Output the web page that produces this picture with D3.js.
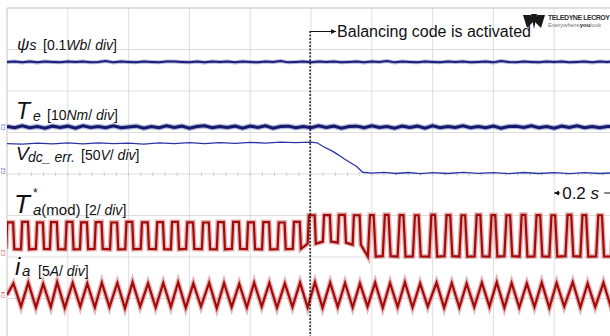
<!DOCTYPE html>
<html>
<head>
<meta charset="utf-8">
<script src="https://cdn.jsdelivr.net/npm/d3@7"></script>
<style>
  html, body { margin: 0; padding: 0; background: #fff; }
  svg { display: block; font-family: "Liberation Sans", Arial, sans-serif; }
</style>
</head>
<body>
<script>
"use strict";

// time axis: 0.2 s/div, 10 div; activation of balancing code
const activationT = 0.997;
const gridT = d3.range(0, 2.0001, 0.2);
const gridDiv = d3.range(-4, 4.0001, 1);

// channel settings (units per div, zero level in div)
const chPsi  = { perDiv: 0.1, zero: 0.0 };
const chTe   = { perDiv: 10,  zero: 1.133 };
const chVdc  = { perDiv: 50,  zero: 0.072 };
const chMod  = { perDiv: 2,   zero: -1.904 };
const chIa   = { perDiv: 5,   zero: -2.916 };

// sampled every 0.025 s
const sampleT = d3.range(0, 2.0001, 0.025);
const psiS = [
  0.270,0.271,0.269,0.271,0.269,0.271,0.270,0.269,0.271,0.270,
  0.271,0.269,0.270,0.272,0.269,0.271,0.270,0.269,0.271,0.270,
  0.269,0.271,0.271,0.270,0.269,0.271,0.269,0.271,0.270,0.271,
  0.269,0.271,0.270,0.269,0.271,0.270,0.272,0.269,0.270,0.271,
  0.269,0.271,0.270,0.271,0.269,0.270,0.271,0.269,0.271,0.270,
  0.272,0.269,0.271,0.270,0.269,0.271,0.270,0.269,0.271,0.270,
  0.271,0.269,0.270,0.271,0.269,0.272,0.270,0.269,0.271,0.270,
  0.269,0.271,0.270,0.271,0.269,0.270,0.271,0.269,0.271,0.270,0.271
];
const teNm = [
  0.1,-0.2,0.3,-0.2,0.1,-0.3,0.2,-0.1,0.2,-0.3,
  0.3,-0.1,0.1,-0.2,0.3,-0.2,0.0,0.2,-0.3,0.1,
  -0.2,0.3,-0.1,0.2,-0.3,0.1,0.3,-0.2,0.1,-0.1,
  0.2,-0.3,0.2,-0.1,0.3,-0.3,0.1,0.2,-0.2,0.1,
  -0.2,0.3,-0.1,0.2,-0.3,0.1,0.2,-0.2,0.3,-0.1,
  0.1,-0.3,0.2,-0.1,0.2,-0.3,0.3,-0.2,0.1,-0.1,
  0.3,-0.2,0.1,-0.2,0.2,-0.3,0.1,0.2,-0.1,0.3,
  -0.2,0.1,-0.3,0.2,-0.1,0.3,-0.2,0.1,-0.2,0.1,0.2
];

// dc-link voltage error [s, V]
const vdcErr = [
  [0,33.1],[0.05,32.4],[0.1,33.7],[0.15,32.6],[0.2,33.8],[0.25,32.7],[0.3,34.0],
  [0.35,32.9],[0.4,33.6],[0.45,32.5],[0.5,33.8],[0.55,32.9],[0.6,34.1],[0.65,33.0],
  [0.7,34.3],[0.75,33.3],[0.8,34.6],[0.85,33.6],[0.9,34.8],[0.95,34.1],[1.0,34.9],
  [1.02,34.0],[1.04,29.5],[1.07,24.0],[1.09,19.5],[1.11,14.5],[1.13,10.0],[1.15,5.5],
  [1.17,-1.5],[1.2,-2.6],[1.24,-1.6],[1.28,-3.0],[1.32,-1.8],[1.36,-3.1],[1.4,-2.0],
  [1.45,-3.0],[1.5,-1.7],[1.55,-2.9],[1.6,-1.9],[1.65,-3.1],[1.7,-1.8],[1.75,-3.0],
  [1.8,-1.9],[1.85,-3.1],[1.9,-2.0],[1.95,-3.0],[2.0,-2.1]
];

// phase current extrema
const iaPeakT = [
  0.021,0.070,0.119,0.165,0.216,0.264,0.312,0.363,0.413,0.464,
  0.514,0.563,0.613,0.665,0.714,0.764,0.813,0.863,0.914,0.964,
  1.013,1.063,1.112,1.161,1.211,1.260,1.309,1.359,1.413,1.463,
  1.512,1.562,1.611,1.660,1.710,1.759,1.808,1.861,1.910,1.962
];
const iaPeakA = [
  1.40,1.50,1.35,1.55,1.45,1.40,1.50,1.45,1.55,1.40,
  1.45,1.55,1.40,1.50,1.45,1.35,1.50,1.45,1.40,1.50,
  1.55,1.50,1.45,1.40,1.50,1.45,1.55,1.40,1.50,1.45,
  1.40,1.50,1.55,1.45,1.40,1.50,1.45,1.55,1.40,1.50
];
const iaTroughT = [
  0.046,0.095,0.144,0.190,0.241,0.289,0.337,0.388,0.438,0.489,
  0.539,0.588,0.638,0.690,0.739,0.789,0.838,0.888,0.939,0.989,
  1.038,1.088,1.137,1.186,1.236,1.285,1.334,1.384,1.438,1.488,
  1.537,1.587,1.636,1.685,1.735,1.784,1.833,1.886,1.935,1.987
];
const iaTroughA = [
  -1.40,-1.50,-1.45,-1.55,-1.40,-1.50,-1.45,-1.60,-1.40,-1.50,
  -1.45,-1.55,-1.40,-1.60,-1.45,-1.50,-1.40,-1.55,-1.45,-1.50,
  -1.55,-1.45,-1.50,-1.40,-1.55,-1.45,-1.50,-1.40,-1.55,-1.50,
  -1.45,-1.40,-1.55,-1.50,-1.45,-1.55,-1.40,-1.50,-1.45,-1.50
];

// modulating signal: rising edge time, high and low level per cycle
const modRiseT = [
  -0.003,0.046,0.095,0.141,0.192,0.240,0.288,0.339,0.389,0.440,
  0.490,0.539,0.589,0.641,0.690,0.740,0.789,0.839,0.890,0.940,
  0.989,1.039,1.088,1.137,1.187,1.236,1.285,1.335,1.389,1.439,
  1.488,1.538,1.587,1.636,1.686,1.735,1.784,1.837,1.886,1.938,1.988
];
const modHi = [
  1.48,1.50,1.47,1.49,1.50,1.48,1.49,1.47,1.50,1.48,
  1.49,1.50,1.48,1.47,1.49,1.50,1.48,1.49,1.47,1.50,
  1.82,1.83,1.84,1.82,1.83,1.84,1.83,1.82,1.84,1.83,
  1.82,1.84,1.83,1.82,1.84,1.83,1.82,1.84,1.83,1.82,1.83
];
const modLo = [
  0.19,0.18,0.20,0.19,0.18,0.19,0.20,0.18,0.19,0.20,
  0.19,0.18,0.20,0.19,0.18,0.20,0.19,0.18,0.19,0.20,
  0.45,0.55,0.50,0.40,-0.17,-0.15,-0.17,-0.16,-0.17,-0.15,
  -0.17,-0.16,-0.17,-0.15,-0.17,-0.16,-0.17,-0.15,-0.17,-0.16,-0.17
];

const W = 610, H = 336;
const x = d3.scaleLinear().domain([0, 2]).range([7, 615]);
const yDiv = d3.scaleLinear().domain([-4, 4]).range([340, 8]);

const svg = d3.select("body").append("svg")
  .attr("width", W).attr("height", H);

svg.append("rect").attr("width", W).attr("height", H).attr("fill", "#fff");

svg.append("clipPath").attr("id", "plot")
  .append("rect").attr("x", 7).attr("y", 8).attr("width", 608).attr("height", 332);

// grid
svg.append("g").selectAll("line").data(gridT).join("line")
  .attr("x1", d => x(d)).attr("x2", d => x(d))
  .attr("y1", 8).attr("y2", H)
  .attr("stroke", d => d === 0 ? "#c4c4c4" : "#dedede").attr("stroke-width", 1);
svg.append("g").selectAll("line").data(gridDiv).join("line")
  .attr("x1", 7).attr("x2", W)
  .attr("y1", d => yDiv(d)).attr("y2", d => yDiv(d))
  .attr("stroke", d => d === 4 ? "#c4c4c4" : "#dedede").attr("stroke-width", 1);
svg.append("g").selectAll("line").data(d3.range(0, 2.0001, 0.04)).join("line")
  .attr("x1", d => x(d)).attr("x2", d => x(d))
  .attr("y1", yDiv(0) - 2).attr("y2", yDiv(0) + 2)
  .attr("stroke", "#cfcfcf");

function lineFor(ch) {
  return d3.line().x(d => x(d[0])).y(d => yDiv(ch.zero + d[1] / ch.perDiv));
}

const traces = svg.append("g").attr("clip-path", "url(#plot)");

// psi_s and Te
const psiData = sampleT.map((t, i) => [t, psiS[i]]);
const teData = sampleT.map((t, i) => [t, teNm[i]]);
traces.append("path").attr("d", lineFor(chPsi)(psiData))
  .attr("fill", "none").attr("stroke", "#5a5fa8").attr("stroke-opacity", 0.45).attr("stroke-width", 4);
traces.append("path").attr("d", lineFor(chPsi)(psiData))
  .attr("fill", "none").attr("stroke", "#1b1f7c").attr("stroke-width", 2);
traces.append("path").attr("d", lineFor(chTe)(teData))
  .attr("fill", "none").attr("stroke", "#5a5fa8").attr("stroke-opacity", 0.45).attr("stroke-width", 5.5);
traces.append("path").attr("d", lineFor(chTe)(teData))
  .attr("fill", "none").attr("stroke", "#15196e").attr("stroke-width", 3);

// Vdc error
traces.append("path").attr("d", lineFor(chVdc)(vdcErr))
  .attr("fill", "none").attr("stroke", "#2a35a5").attr("stroke-width", 1.3);

// modulating signal
const modData = [];
modRiseT.forEach((t0, i) => {
  const late = t0 > 1.17;
  const r = late ? 0.007 : 0.004, h = late ? 0.012 : 0.019, f = late ? 0.007 : 0.004;
  modData.push([t0, modLo[i]], [t0 + r, modHi[i]], [t0 + r + h, modHi[i]], [t0 + r + h + f, modLo[i]]);
});
traces.append("path").attr("d", lineFor(chMod)(modData))
  .attr("fill", "none").attr("stroke", "#d07878").attr("stroke-opacity", 0.55).attr("stroke-width", 5);
traces.append("path").attr("d", lineFor(chMod)(modData))
  .attr("fill", "none").attr("stroke", "#a30a0a").attr("stroke-width", 2.2);

// phase current
const iaData = [[0, 0]]
  .concat(iaPeakT.map((t, i) => [t, iaPeakA[i]]))
  .concat(iaTroughT.map((t, i) => [t, iaTroughA[i]]))
  .concat([[2.0, 0.6]])
  .sort((a, b) => a[0] - b[0]);
traces.append("path").attr("d", lineFor(chIa)(iaData))
  .attr("fill", "none").attr("stroke", "#d07878").attr("stroke-opacity", 0.55).attr("stroke-width", 5);
traces.append("path").attr("d", lineFor(chIa)(iaData))
  .attr("fill", "none").attr("stroke", "#a30a0a").attr("stroke-width", 2.2);

// channel markers
const markers = [
  { ch: chTe, c: "#3a44b0", t: "C1" },
  { ch: chVdc, c: "#3a44b0", t: "C2" },
  { ch: chMod, c: "#d04040", t: "C3" },
  { ch: chIa, c: "#d04040", t: "C4" }
];
svg.append("g").selectAll("text").data(markers).join("text")
  .attr("transform", d => `translate(5,${yDiv(d.ch.zero)}) rotate(-90)`)
  .attr("text-anchor", "middle")
  .attr("font-size", 5).attr("fill", d => d.c)
  .text(d => d.t);

// labels
function label(px, py, parts) {
  const t = svg.append("text").attr("x", px).attr("y", py).attr("fill", "#111");
  parts.forEach(p => {
    const s = t.append("tspan").text(p[0]).attr("font-size", p[1]);
    if (p[2]) s.attr("font-style", "italic");
    if (p[3] !== undefined) s.attr("x", p[3]);
    if (p[4] !== undefined) s.attr("y", p[4]);
  });
}
label(17, 50, [["ψ", 17, 1], ["s", 14, 1], ["[0.1", 14, 0, 43], ["Wb", 14, 1], ["/ ", 14, 0], ["div", 14, 1], ["]", 14, 0]]);
label(16, 119, [["T", 23, 1], ["e", 14, 1, 33, 121], ["[10", 14, 0, 47, 120], ["Nm", 14, 1], ["/ ", 14, 0], ["div", 14, 1], ["]", 14, 0]]);
label(16, 160, [["V", 19, 1], ["dc_ err.", 14, 1, 28, 162], ["[50", 14, 0, 81, 160], ["V", 14, 1], ["/ ", 14, 0], ["div", 14, 1], ["]", 14, 0]]);
label(14, 213, [["T", 26, 1], ["*", 12, 0, 33, 197], ["a", 15, 1, 33, 215], ["(mod)", 15, 0], ["[2", 14, 0, 85, 215], ["/ ", 14, 0], ["div", 14, 1], ["]", 14, 0]]);
label(15, 275, [["i", 24, 1], ["a", 15, 1, 22, 276], ["[5", 14, 0, 38, 276], ["A", 14, 1], ["/ ", 14, 0], ["div", 14, 1], ["]", 14, 0]]);

// activation marker
const xa = x(activationT);
svg.append("line").attr("x1", xa).attr("x2", xa).attr("y1", 31).attr("y2", H)
  .attr("stroke", "#111").attr("stroke-width", 1.4).attr("stroke-dasharray", "2,1.5");
svg.append("defs").html(
  '<marker id="ah" viewBox="0 0 6 6" refX="6" refY="3" markerWidth="5" markerHeight="5" orient="auto-start-reverse">' +
  '<path d="M0,0 L6,3 L0,6 z" fill="#111"/></marker>');
svg.append("line").attr("x1", xa).attr("x2", xa + 26).attr("y1", 31.5).attr("y2", 31.5)
  .attr("stroke", "#111").attr("stroke-width", 1).attr("marker-end", "url(#ah)");
svg.append("text").attr("x", xa + 27).attr("y", 37)
  .attr("font-size", 16).attr("fill", "#111").text("Balancing code is activated");

// time scale
const ys = 193;
svg.append("line").attr("x1", x(1.8) + 6).attr("x2", x(1.8)).attr("y1", ys).attr("y2", ys)
  .attr("stroke", "#111").attr("stroke-width", 1).attr("marker-end", "url(#ah)");
svg.append("line").attr("x1", x(1.8) + 50).attr("x2", x(2.0)).attr("y1", ys).attr("y2", ys)
  .attr("stroke", "#111").attr("stroke-width", 1).attr("marker-end", "url(#ah)");
const st = svg.append("text").attr("x", x(1.8) + 8).attr("y", ys + 6).attr("font-size", 17).attr("fill", "#111");
st.append("tspan").text("0.2 ");
st.append("tspan").attr("font-style", "italic").text("s");

// logo
const logo = svg.append("g").attr("fill", "#1a1a1a");
logo.append("path").attr("d", "M523,15 L531,15 L534,21 L527,28 Z");
logo.append("path").attr("d", "M545,15 L537,15 L534,21 L541,28 Z");
logo.append("path").attr("d", "M531,14 L537,14 L534,29 Z");
svg.append("text").attr("x", 548).attr("y", 20).attr("font-size", 7).attr("font-weight", "bold")
  .attr("fill", "#333").attr("textLength", 62).text("TELEDYNE LECROY");
const tl = svg.append("text").attr("x", 548).attr("y", 27).attr("font-size", 6).attr("fill", "#777");
tl.append("tspan").text("Everywhere");
tl.append("tspan").attr("font-weight", "bold").attr("fill", "#333").text("you");
tl.append("tspan").text("look");
</script>
</body>
</html>
